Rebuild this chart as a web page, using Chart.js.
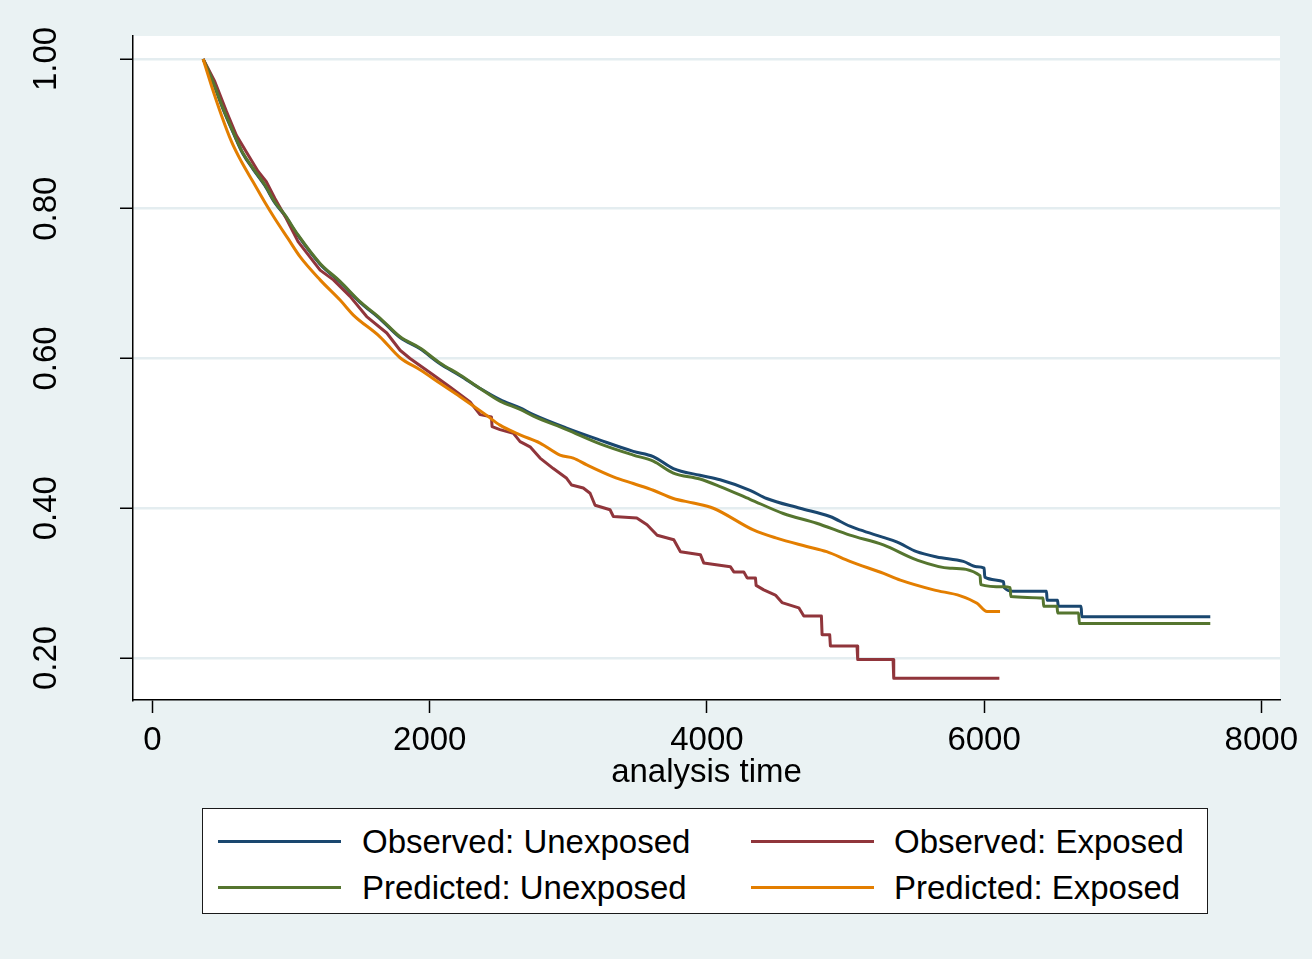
<!DOCTYPE html>
<html>
<head>
<meta charset="utf-8">
<title>Observed and predicted survival</title>
<script src="https://cdn.jsdelivr.net/npm/chart.js@4.4.0/dist/chart.umd.min.js"></script>
<style>
  html, body { margin: 0; padding: 0; background: #eaf2f3; }
  #wrap { position: relative; width: 1312px; height: 959px; }
  #legend {
    position: absolute; left: 202px; top: 808px; width: 1004px; height: 104px;
    background: #fff; border: 1.5px solid #1a1a1a;
    font-family: "Liberation Sans", Arial, Helvetica, sans-serif; font-size: 33px; color: #000;
  }
  .swatch { position: absolute; width: 123px; height: 3px; }
  .label { position: absolute; line-height: 1; white-space: nowrap; transform: translateY(-50%); }
</style>
</head>
<body>
<div id="wrap">
  <canvas id="survChart" width="1312" height="959"></canvas>
  <div id="legend"></div>
</div>
<script>
// Series values (analysis time, survival)
const obsUnexpTime = [365, 436, 509, 581, 653, 725, 810, 882, 954, 1050, 1209, 1353, 1497, 1641, 1786, 1930, 2074, 2219, 2363, 2507, 2652, 2748, 2988, 3229, 3469, 3613, 3758, 3950, 4095, 4311, 4431, 4672, 4888, 5032, 5105, 5273, 5369, 5513, 5658, 5850, 5947, 6000, 6005, 6140, 6145, 6212, 6450, 6455, 6530, 6535, 6700, 6705, 7632];
const obsUnexpSurv = [1.000, 0.969, 0.933, 0.902, 0.873, 0.853, 0.831, 0.808, 0.791, 0.764, 0.726, 0.702, 0.675, 0.653, 0.628, 0.613, 0.593, 0.577, 0.560, 0.545, 0.534, 0.525, 0.507, 0.491, 0.476, 0.469, 0.453, 0.444, 0.438, 0.424, 0.413, 0.400, 0.389, 0.376, 0.371, 0.361, 0.355, 0.342, 0.335, 0.329, 0.322, 0.320, 0.308, 0.302, 0.294, 0.289, 0.289, 0.277, 0.277, 0.269, 0.269, 0.255, 0.255];

const obsExpTime = [365, 449, 533, 605, 689, 761, 821, 882, 965, 1050, 1209, 1305, 1425, 1545, 1690, 1786, 1858, 2026, 2146, 2291, 2363, 2445, 2450, 2507, 2604, 2652, 2724, 2796, 2892, 2988, 3024, 3108, 3157, 3193, 3301, 3325, 3494, 3568, 3641, 3761, 3809, 3953, 3977, 4169, 4194, 4266, 4290, 4350, 4355, 4410, 4494, 4542, 4663, 4699, 4826, 4831, 4886, 4891, 5083, 5088, 5343, 5348, 6110];
const obsExpSurv = [1.000, 0.970, 0.930, 0.898, 0.872, 0.850, 0.836, 0.814, 0.787, 0.756, 0.718, 0.705, 0.683, 0.656, 0.634, 0.611, 0.600, 0.578, 0.562, 0.542, 0.525, 0.522, 0.509, 0.505, 0.500, 0.489, 0.482, 0.467, 0.453, 0.440, 0.431, 0.427, 0.420, 0.404, 0.398, 0.389, 0.387, 0.378, 0.364, 0.358, 0.342, 0.338, 0.327, 0.322, 0.315, 0.315, 0.307, 0.307, 0.297, 0.291, 0.284, 0.274, 0.267, 0.256, 0.256, 0.231, 0.231, 0.216, 0.216, 0.198, 0.198, 0.173, 0.173];

const predUnexpTime = [365, 436, 509, 581, 653, 725, 810, 882, 954, 1050, 1209, 1353, 1497, 1641, 1786, 1930, 2074, 2219, 2363, 2507, 2652, 2748, 2988, 3229, 3469, 3613, 3758, 3950, 4095, 4311, 4551, 4792, 5032, 5273, 5513, 5755, 5971, 5976, 6140, 6188, 6193, 6425, 6430, 6526, 6531, 6682, 6687, 7632];
const predUnexpSurv = [1.000, 0.970, 0.934, 0.903, 0.874, 0.854, 0.832, 0.809, 0.792, 0.765, 0.727, 0.703, 0.676, 0.654, 0.629, 0.614, 0.594, 0.578, 0.560, 0.543, 0.532, 0.523, 0.505, 0.486, 0.471, 0.463, 0.447, 0.439, 0.429, 0.412, 0.393, 0.380, 0.364, 0.351, 0.331, 0.320, 0.310, 0.298, 0.295, 0.294, 0.282, 0.280, 0.269, 0.269, 0.260, 0.260, 0.246, 0.246];

const predExpTime = [365, 424, 497, 569, 641, 725, 809, 882, 978, 1064, 1209, 1353, 1449, 1641, 1786, 1930, 2074, 2219, 2411, 2507, 2652, 2796, 2940, 3036, 3133, 3325, 3469, 3613, 3758, 3902, 4046, 4335, 4503, 4720, 4864, 5032, 5275, 5396, 5636, 5829, 5949, 6021, 6115];
const predExpSurv = [1.000, 0.965, 0.925, 0.890, 0.863, 0.836, 0.809, 0.787, 0.760, 0.736, 0.705, 0.678, 0.658, 0.629, 0.601, 0.585, 0.567, 0.549, 0.524, 0.511, 0.498, 0.487, 0.471, 0.467, 0.458, 0.442, 0.433, 0.424, 0.413, 0.407, 0.400, 0.371, 0.360, 0.349, 0.342, 0.329, 0.313, 0.304, 0.291, 0.283, 0.273, 0.262, 0.262];

// Legend order: row by row, two columns
const seriesNames = ['Observed: Unexposed', 'Observed: Exposed', 'Predicted: Unexposed', 'Predicted: Exposed'];
const seriesColors = ['#1a476f', '#90353b', '#55752f', '#e37e00'];

const xTicks = [0, 2000, 4000, 6000, 8000];
const yTicks = [0.20, 0.40, 0.60, 0.80, 1.00];

function toPoints(times, surv) {
    return times.map((t, i) => ({ x: t, y: surv[i] }));
}

// Grey page with a white plot region
const backgroundPlugin = {
    id: 'backgroundPlugin',
    beforeDraw(chart) {
        const ctx = chart.ctx;
        const area = chart.chartArea;
        ctx.save();
        ctx.fillStyle = '#eaf2f3';
        ctx.fillRect(0, 0, chart.width, chart.height);
        ctx.fillStyle = '#ffffff';
        ctx.fillRect(area.left, area.top, area.right - area.left, area.bottom - area.top);
        ctx.restore();
    }
};

// y tick labels are turned on their side, like Stata does
const rotatedYLabels = {
    id: 'rotatedYLabels',
    afterDraw(chart) {
        const ctx = chart.ctx;
        const yAxis = chart.scales.y;
        ctx.save();
        ctx.fillStyle = '#000';
        ctx.font = '33px "Liberation Sans", Arial, sans-serif';
        ctx.textAlign = 'center';
        ctx.textBaseline = 'middle';
        yTicks.forEach(v => {
            ctx.save();
            ctx.translate(47, yAxis.getPixelForValue(v));
            ctx.rotate(-Math.PI / 2);
            ctx.fillText(v.toFixed(2), 0, 0);
            ctx.restore();
        });
        ctx.restore();
    }
};

// red curve keeps its steps, the others are drawn smooth
const datasets = [
    { label: seriesNames[0], data: toPoints(obsUnexpTime, obsUnexpSurv), borderColor: seriesColors[0], order: 4, cubicInterpolationMode: 'monotone' },
    { label: seriesNames[1], data: toPoints(obsExpTime, obsExpSurv), borderColor: seriesColors[1], order: 3 },
    { label: seriesNames[2], data: toPoints(predUnexpTime, predUnexpSurv), borderColor: seriesColors[2], order: 2, cubicInterpolationMode: 'monotone' },
    { label: seriesNames[3], data: toPoints(predExpTime, predExpSurv), borderColor: seriesColors[3], order: 1, cubicInterpolationMode: 'monotone' }
];
datasets.forEach(ds => {
    ds.borderWidth = 3;
    ds.pointRadius = 0;
    ds.fill = false;
    ds.borderJoinStyle = 'round';
});

const ctx = document.getElementById('survChart').getContext('2d');
const survChart = new Chart(ctx, {
    type: 'line',
    data: { datasets: datasets },
    plugins: [backgroundPlugin, rotatedYLabels],
    options: {
        responsive: false,
        animation: false,
        layout: { padding: { left: 0, top: 36, right: 32, bottom: 159 } },
        plugins: {
            legend: { display: false },
            tooltip: { enabled: false }
        },
        scales: {
            x: {
                type: 'linear',
                min: -141,
                max: 8135,
                afterBuildTicks: s => { s.ticks = xTicks.map(v => ({ value: v })); },
                afterFit: s => { s.height = 100; },
                grid: { drawOnChartArea: false, tickLength: 13, tickColor: '#000', tickWidth: 1.5 },
                border: { color: '#000', width: 1.5 },
                ticks: {
                    color: '#000',
                    maxRotation: 0,
                    autoSkip: false,
                    padding: 8,
                    callback: v => String(v),
                    font: { family: '"Liberation Sans", Arial, sans-serif', size: 33 }
                },
                title: {
                    display: true,
                    text: 'analysis time',
                    color: '#000',
                    padding: { top: 0, bottom: 7 },
                    font: { family: '"Liberation Sans", Arial, sans-serif', size: 33 }
                }
            },
            y: {
                type: 'linear',
                min: 0.1439,
                max: 1.0307,
                afterBuildTicks: s => { s.ticks = yTicks.map(v => ({ value: v })); },
                afterFit: s => { s.width = 133; },
                grid: { color: '#e4edf0', lineWidth: 2.5, tickLength: 13, tickColor: '#000', tickWidth: 1.5 },
                border: { color: '#000', width: 1.5 },
                ticks: { display: false }
            }
        }
    }
});

// Two-column legend box under the plot
function buildLegend() {
    const box = document.getElementById('legend');
    const colSwatch = [15, 548];
    const colText = [159, 691];
    const rowMid = [32, 78];
    seriesNames.forEach((name, i) => {
        const col = i % 2;
        const row = Math.floor(i / 2);
        const sw = document.createElement('div');
        sw.className = 'swatch';
        sw.style.left = colSwatch[col] + 'px';
        sw.style.top = (rowMid[row] - 1.5) + 'px';
        sw.style.background = seriesColors[i];
        box.appendChild(sw);
        const txt = document.createElement('span');
        txt.className = 'label';
        txt.style.left = colText[col] + 'px';
        txt.style.top = rowMid[row] + 'px';
        txt.textContent = name;
        box.appendChild(txt);
    });
}
buildLegend();
</script>
</body>
</html>
